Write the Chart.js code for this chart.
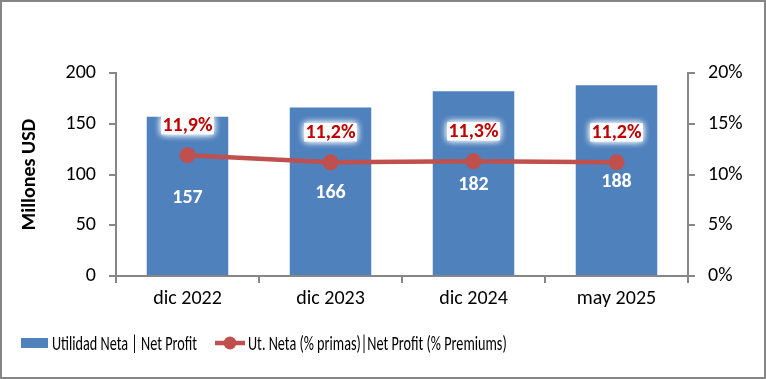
<!DOCTYPE html>
<html><head><meta charset="utf-8">
<script src="https://cdn.jsdelivr.net/npm/chart.js@4/dist/chart.umd.min.js"></script>
<style>
html,body{margin:0;padding:0;background:#fff;}
#wrap{width:766px;height:379px;box-sizing:border-box;border:2px solid #868686;background:#fff;}
canvas{display:block;}
</style></head><body>
<div id="wrap"><canvas id="c" width="762" height="375"></canvas></div>
<script>
const categories = ['dic 2022','dic 2023','dic 2024','may 2025'];
const netProfit = [157,166,182,188];
const profitPct = [11.9,11.2,11.3,11.2];
const leftTicks = [0,50,100,150,200];
const rightTicks = [0,5,10,15,20];
const seriesNames = ['Utilidad Neta | Net Profit','Ut. Neta (% primas)|Net Profit (% Premiums)'];

const FONT = "Carlito, 'Liberation Sans', sans-serif";
const BLUE = '#4F81BD', RED = '#C0504D', AXIS = '#868686';

const labelPlugin = {
  id:'labels',
  afterDatasetsDraw(chart){
    const ctx=chart.ctx;
    ctx.save();
    ctx.textAlign='center';ctx.textBaseline='alphabetic';
    const m0=chart.getDatasetMeta(0);
    ctx.font="bold 20px "+FONT;
    ctx.fillStyle='#ffffff';
    m0.data.forEach((b,i)=>{
      const y=(b.y+b.base)/2;
      ctx.fillText(String(netProfit[i]),b.x,y+7);
    });
    const m1=chart.getDatasetMeta(1);
    m1.data.forEach((p,i)=>{
      const t=profitPct[i].toFixed(1).replace('.',',')+'%';
      const base=p.y-24;
      const w=ctx.measureText(t).width;
      ctx.save();
      ctx.shadowColor='rgba(255,255,255,1)';ctx.shadowBlur=7;
      ctx.fillStyle='#ffffff';
      ctx.fillRect(p.x-w/2-1,base-15,w+2,18);
      ctx.fillRect(p.x-w/2-1,base-15,w+2,18);
      ctx.restore();
      ctx.fillStyle='#C00000';
      ctx.fillText(t,p.x,base);
    });
    ctx.restore();
  },
  afterDraw(chart){
    // legend (condensed text as in the reference)
    const ctx=chart.ctx;
    ctx.save();
    const ly=341;
    ctx.font="21px "+FONT;
    const sx=145/ctx.measureText(seriesNames[0]).width;
    ctx.fillStyle=BLUE;
    ctx.fillRect(19,336,27,10);
    ctx.fillStyle='#000';
    ctx.textAlign='left';ctx.textBaseline='alphabetic';
    ctx.save();ctx.translate(50,ly+6.5);ctx.scale(sx,1);ctx.fillText(seriesNames[0],0,0);ctx.restore();
    ctx.strokeStyle=RED;ctx.lineWidth=4.5;
    ctx.beginPath();ctx.moveTo(213,ly);ctx.lineTo(243,ly);ctx.stroke();
    ctx.fillStyle=RED;ctx.beginPath();ctx.arc(228,ly,6.5,0,Math.PI*2);ctx.fill();
    ctx.fillStyle='#000';
    ctx.save();ctx.translate(246,ly+6.5);ctx.scale(sx,1);ctx.fillText(seriesNames[1],0,0);ctx.restore();
    ctx.restore();
  }
};

new Chart(document.getElementById('c'),{
  data:{
    labels:categories,
    datasets:[
      {type:'bar',label:seriesNames[0],data:netProfit,backgroundColor:BLUE,yAxisID:'y',barPercentage:0.57,categoryPercentage:1,order:2},
      {type:'line',label:seriesNames[1],data:profitPct,borderColor:RED,backgroundColor:RED,borderWidth:4.5,pointRadius:8,pointHoverRadius:8,pointBackgroundColor:RED,pointBorderColor:RED,pointBorderWidth:0,yAxisID:'y1',order:1,tension:0}
    ]
  },
  options:{
    responsive:false,animation:false,
    layout:{padding:{top:71,left:0,right:0,bottom:61}},
    plugins:{tooltip:{enabled:false},legend:{display:false}},
    scales:{
      x:{
        afterFit(s){s.height=40;},
        grid:{offset:true,drawOnChartArea:false,drawTicks:true,tickLength:7,color:AXIS,lineWidth:2},
        border:{display:true,color:AXIS,width:2},
        ticks:{font:{family:FONT,size:20},color:'#000',padding:4}
      },
      y:{
        position:'left',min:0,max:200,
        afterBuildTicks(s){s.ticks=leftTicks.map(v=>({value:v}));},
        afterFit(s){s.width=114;},
        grid:{drawOnChartArea:false,drawTicks:true,tickLength:7,color:AXIS,lineWidth:2},
        border:{display:true,color:AXIS,width:2},
        ticks:{font:{family:FONT,size:20},color:'#000',padding:13},
        title:{display:true,text:'Millones USD',font:{family:FONT,size:20,weight:'bold'},color:'#000',padding:{top:16,bottom:0}}
      },
      y1:{
        position:'right',min:0,max:20,
        afterBuildTicks(s){s.ticks=rightTicks.map(v=>({value:v}));},
        afterFit(s){s.width=76;},
        grid:{drawOnChartArea:false,drawTicks:true,tickLength:7,color:AXIS,lineWidth:2},
        border:{display:true,color:AXIS,width:2},
        ticks:{font:{family:FONT,size:20},color:'#000',padding:13,callback:v=>v+'%'}
      }
    }
  },
  plugins:[labelPlugin]
});
</script></body></html>
